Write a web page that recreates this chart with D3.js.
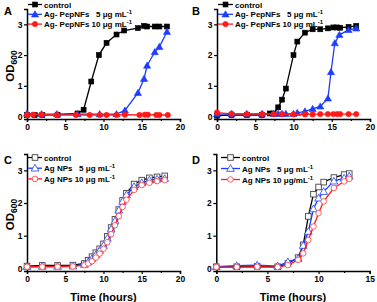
<!DOCTYPE html>
<html>
<head>
<meta charset="utf-8">
<script src="https://cdn.jsdelivr.net/npm/d3@7"></script>
<style>
  body { margin: 0; background: #fff; }
  text { font-family: "Liberation Sans", Arial, sans-serif; font-weight: bold; white-space: pre; }
</style>
</head>
<body>
<div id="chart"></div>
<script>
// ---- data ----
// Panel A
const aCtrlX = [0, 1, 2, 4, 6.6, 7.4, 8.4, 9.4, 10.4, 11.7, 12.7, 14.5, 15.3, 15.7, 16.7, 17.3, 18.3];
const aCtrlY = [0.05, 0.05, 0.05, 0.06, 0.1, 0.22, 1.14, 2.0, 2.4, 2.67, 2.8, 2.88, 2.95, 2.93, 2.93, 2.93, 2.93];
const aNF5X = [0, 1.9, 3.9, 6.6, 9.5, 11.7, 12.8, 14.5, 15.3, 15.7, 16.7, 17.3, 18.3];
const aNF5Y = [0.1, 0.08, 0.08, 0.08, 0.08, 0.08, 0.2, 0.77, 1.23, 1.66, 2.1, 2.27, 2.76];
const aNF10X = [0, 0.8, 1.9, 3.9, 6.4, 8.2, 9.5, 10.4, 11.7, 12.8, 14.7, 15.4, 15.8, 16.9, 17.3, 18.4];
const aNF10Y = [0.05, 0.06, 0.06, 0.05, 0.05, 0.05, 0.05, 0.05, 0.05, 0.06, 0.05, 0.06, 0.06, 0.05, 0.05, 0.05];

// Panel B
const bCtrlX = [0, 1.9, 3.9, 5.9, 6.9, 7.4, 8.0, 8.5, 9.0, 10.0, 10.5, 11.5, 12.5, 13.5, 14.5, 15.2, 15.7, 16.1, 17.2, 18.2];
const bCtrlY = [0.03, 0.05, 0.05, 0.05, 0.1, 0.1, 0.3, 0.55, 0.91, 2.0, 2.44, 2.73, 2.84, 2.84, 2.87, 2.9, 2.9, 2.89, 2.92, 2.95];
const bNF5X = [0, 1.9, 3.9, 5.9, 7.4, 8.0, 8.5, 9.0, 10.0, 10.5, 11.5, 12.5, 13.5, 14.5, 14.9, 15.4, 16.0, 17.2, 18.2];
const bNF5Y = [0.08, 0.09, 0.09, 0.09, 0.09, 0.09, 0.09, 0.09, 0.09, 0.12, 0.17, 0.25, 0.33, 0.59, 1.45, 2.39, 2.66, 2.82, 2.87];
const bNF10X = [0, 1.9, 3.9, 5.9, 7.4, 8.5, 10.0, 11.5, 12.5, 13.5, 14.5, 15.2, 15.7, 16.1, 17.2, 18.2];
const bNF10Y = [0.13, 0.09, 0.08, 0.08, 0.08, 0.08, 0.07, 0.07, 0.07, 0.08, 0.08, 0.08, 0.08, 0.08, 0.08, 0.08];

// Panel C
const cX = [0, 2, 4, 6, 7.5, 8, 8.5, 9, 9.5, 10, 10.5, 11, 11.5, 12, 12.5, 13, 14, 15, 16, 17, 18];
const cCtrlY = [0.07, 0.09, 0.09, 0.1, 0.15, 0.25, 0.36, 0.48, 0.6, 0.75, 0.98, 1.25, 1.5, 1.8, 2.08, 2.3, 2.58, 2.7, 2.77, 2.8, 2.83];
const cNP5Y = [0.05, 0.06, 0.06, 0.07, 0.12, 0.2, 0.3, 0.42, 0.55, 0.7, 0.92, 1.2, 1.45, 1.78, 2.05, 2.25, 2.5, 2.62, 2.7, 2.73, 2.75];
const cNP10Y = [0.05, 0.05, 0.05, 0.06, 0.1, 0.15, 0.22, 0.33, 0.45, 0.6, 0.8, 1.05, 1.32, 1.6, 1.88, 2.1, 2.4, 2.55, 2.62, 2.67, 2.7];

// Panel D
const dX = [0, 2, 4, 6, 7, 8, 8.5, 9, 9.5, 10, 10.5, 11.5, 12.5, 13];
const dCtrlY = [0.05, 0.05, 0.06, 0.05, 0.15, 0.33, 0.72, 1.59, 2.27, 2.49, 2.64, 2.78, 2.87, 2.9];
const dNP5Y = [0.05, 0.08, 0.1, 0.07, 0.2, 0.3, 0.7, 1.13, 1.82, 2.15, 2.35, 2.67, 2.76, 2.82];
const dNP10Y = [0.04, 0.04, 0.05, 0.04, 0.1, 0.26, 0.46, 0.87, 1.28, 1.69, 2.05, 2.46, 2.66, 2.74];

const yTicks = [0, 1, 2, 3];
const xTicks20 = [0, 5, 10, 15, 20];
const xTicks15 = [0, 5, 10, 15];

const width = 377;
const height = 302;

const svg = d3.select("#chart")
  .append("svg")
  .attr("width", width)
  .attr("height", height);

const zip = (xs, ys) => xs.map((x, i) => [x, ys[i]]);

const BLUE = "#1d3cff";
const RED = "#ff1a1a";

// draw one panel
function drawPanel(p) {
  const x = d3.scaleLinear().domain([0, p.xMax]).range([p.left, p.right]);
  const y = d3.scaleLinear().domain([-0.08, 3.5]).range([p.bottom, p.top]);
  const g = svg.append("g");

  // axes
  const xAxis = d3.axisBottom(x).tickValues(p.xTicks).tickFormat(d3.format("d"))
    .tickSize(3).tickPadding(1.5);
  const gx = g.append("g").attr("transform", `translate(0,${p.bottom})`).call(xAxis);
  const minor = d3.range(2.5, p.xMax, 5);
  g.append("g").attr("transform", `translate(0,${p.bottom})`)
    .call(d3.axisBottom(x).tickValues(minor).tickSize(2).tickFormat(""))
    .select(".domain").remove();
  const gy = g.append("g").attr("transform", `translate(${p.left},0)`)
    .call(d3.axisLeft(y).tickValues(yTicks).tickFormat(d3.format("d")).tickSize(3).tickPadding(1.5));
  [gx, gy].forEach(a => {
    a.select(".domain").attr("stroke-width", 1.5);
    a.selectAll("text").attr("font-size", 8.5).attr("fill", "#000");
  });
  g.selectAll(".tick line").attr("stroke-width", 1.2);
  gx.selectAll("text").attr("dy", "0.75em");

  // series
  const line = d3.line().x(d => x(d[0])).y(d => y(d[1]));
  p.series.forEach(s => {
    const pts = zip(s.xs, s.ys);
    g.append("path").datum(pts)
      .attr("fill", "none").attr("stroke", s.color).attr("stroke-width", 1.3)
      .attr("d", line);
    drawMarkers(g, pts.map(d => [x(d[0]), y(d[1])]), s);
  });

  // legend
  p.series.forEach((s, i) => {
    const ly = p.legY + i * p.legGap;
    g.append("line").attr("x1", p.legX).attr("x2", p.legX + p.legLen)
      .attr("y1", ly).attr("y2", ly).attr("stroke", s.color).attr("stroke-width", 1.3);
    drawMarkers(g, [[p.legX + p.legLen / 2, ly]], s);
    const t = g.append("text").attr("x", p.legX + p.legLen + 2).attr("y", ly + 3)
      .attr("font-size", 8).attr("fill", "#000");
    t.append("tspan").text(s.label);
    if (s.sup) {
      t.append("tspan").attr("dy", -3).attr("font-size", 6).text(s.sup);
    }
  });

  // panel letter
  svg.append("text").attr("x", p.letterX).attr("y", p.letterY)
    .attr("font-size", 11).text(p.letter);

  // y label
  if (p.yLabel) {
    const t = svg.append("text")
      .attr("transform", `translate(${p.left - 13.5},${(p.top + p.bottom) / 2 + 2}) rotate(-90)`)
      .attr("text-anchor", "middle").attr("font-size", 11.5);
    t.append("tspan").text("OD");
    t.append("tspan").attr("dy", 3).attr("font-size", 8.5).text("600");
  }
  // x label
  if (p.xLabel) {
    svg.append("text").attr("x", (p.left + p.right) / 2).attr("y", p.bottom + 30)
      .attr("text-anchor", "middle").attr("font-size", 11).text("Time (hours)");
  }
}

function drawMarkers(g, pts, s) {
  const fill = s.hollow ? "#fff" : s.color;
  const stroke = s.markColor || s.color;
  const sw = s.hollow ? 0.9 : 0.6;
  pts.forEach(([px, py]) => {
    if (s.shape === "square") {
      const r = s.hollow ? 2.8 : 2.5;
      g.append("rect").attr("x", px - r).attr("y", py - r).attr("width", 2 * r).attr("height", 2 * r)
        .attr("fill", fill).attr("stroke", stroke).attr("stroke-width", sw);
    } else if (s.shape === "triangle") {
      g.append("path").attr("transform", `translate(${px},${py + 0.6})`)
        .attr("d", d3.symbol(d3.symbolTriangle, s.hollow ? 26 : 22)())
        .attr("fill", fill).attr("stroke", stroke).attr("stroke-width", sw);
    } else {
      g.append("circle").attr("cx", px).attr("cy", py).attr("r", s.hollow ? 2.8 : 2.7)
        .attr("fill", fill).attr("stroke", stroke).attr("stroke-width", sw);
    }
  });
}

const nfSeries = (cx, cy, fx, fy, tx, ty) => [
  { label: "control", xs: cx, ys: cy, color: "#000", shape: "square" },
  { label: "Ag- PepNFs   5 \u03bcg mL", sup: "-1", xs: fx, ys: fy, color: BLUE, shape: "triangle" },
  { label: "Ag- PepNFs 10 \u03bcg mL", sup: "-1", xs: tx, ys: ty, color: RED, shape: "circle" }
];

drawPanel({
  letter: "A", letterX: 4, letterY: 15, yLabel: true, xLabel: false,
  left: 27, right: 180, top: 9, bottom: 119, xMax: 20, xTicks: xTicks20,
  legX: 28, legLen: 14, legY: 4.5, legGap: 9.8,
  series: nfSeries(aCtrlX, aCtrlY, aNF5X, aNF5Y, aNF10X, aNF10Y)
});
drawPanel({
  letter: "B", letterX: 192, letterY: 15, yLabel: false, xLabel: false,
  left: 217, right: 370, top: 9, bottom: 119, xMax: 20, xTicks: xTicks20,
  legX: 218, legLen: 15, legY: 4.5, legGap: 9.8,
  series: nfSeries(bCtrlX, bCtrlY, bNF5X, bNF5Y, bNF10X, bNF10Y)
});
drawPanel({
  letter: "C", letterX: 4, letterY: 164, yLabel: true, xLabel: true,
  left: 27, right: 180, top: 154, bottom: 271, xMax: 20, xTicks: xTicks20,
  legX: 28, legLen: 14, legY: 157.5, legGap: 10.7,
  series: [
    { label: "control", xs: cX, ys: cCtrlY, color: "#000", markColor: "#444", shape: "square", hollow: true },
    { label: "Ag NPs   5 \u03bcg mL", sup: "-1", xs: cX, ys: cNP5Y, color: BLUE, markColor: "#3355ff", shape: "triangle", hollow: true },
    { label: "Ag NPs 10 \u03bcg mL", sup: "-1", xs: cX, ys: cNP10Y, color: RED, markColor: "#ff4d4d", shape: "circle", hollow: true }
  ]
});
drawPanel({
  letter: "D", letterX: 192, letterY: 164, yLabel: false, xLabel: true,
  left: 216.3, right: 369.7, top: 154, bottom: 271, xMax: 15, xTicks: xTicks15,
  legX: 221, legLen: 19, legY: 157.5, legGap: 11,
  series: [
    { label: "control", xs: dX, ys: dCtrlY, color: "#000", markColor: "#444", shape: "square", hollow: true },
    { label: "Ag NPs   5 \u03bcg mL", sup: "-1", xs: dX, ys: dNP5Y, color: BLUE, markColor: "#3355ff", shape: "triangle", hollow: true },
    { label: "Ag NPs 10 \u03bcg/mL", sup: "-1", xs: dX, ys: dNP10Y, color: RED, markColor: "#ff4d4d", shape: "circle", hollow: true }
  ]
});
</script>
</body>
</html>
